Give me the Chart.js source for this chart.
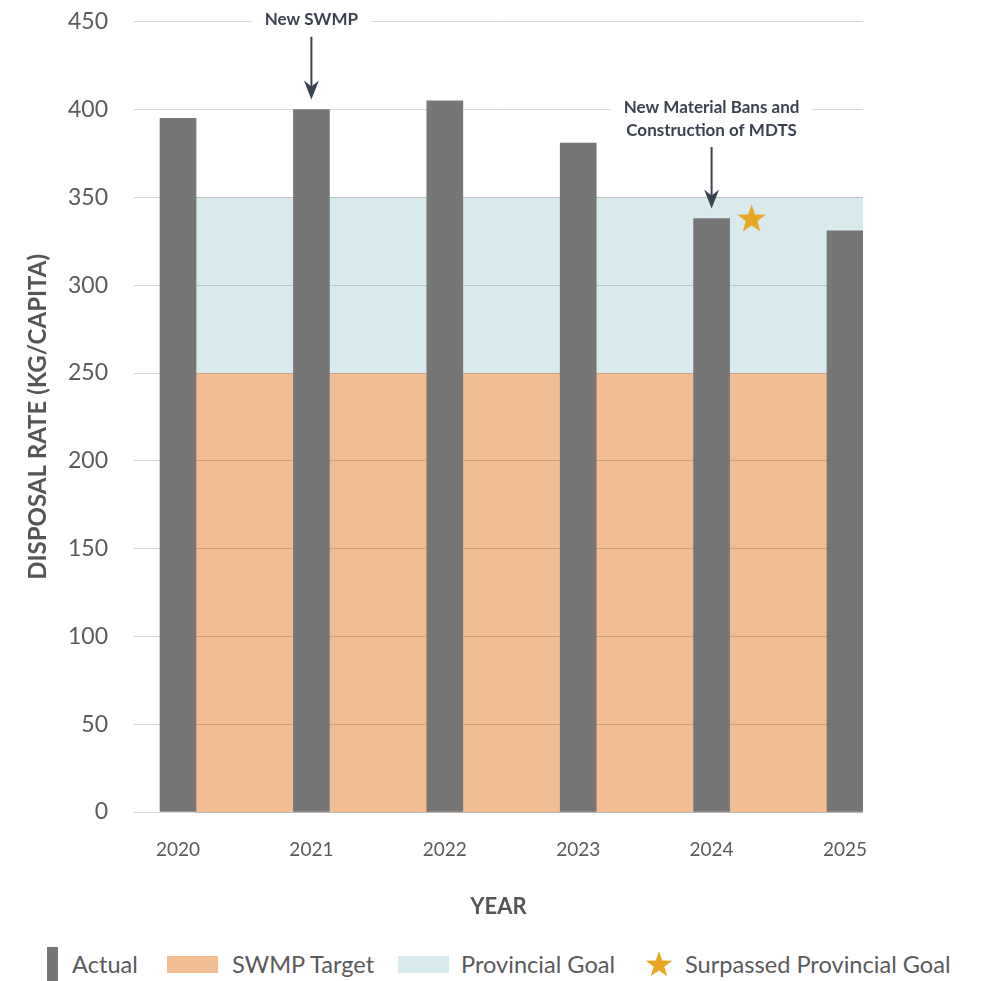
<!DOCTYPE html>
<html>
<head>
<meta charset="utf-8">
<script src="https://cdn.jsdelivr.net/npm/chart.js@4.4.1/dist/chart.umd.min.js"></script>
<style>
  html, body { margin: 0; padding: 0; background: #fff; overflow: hidden; }
  #wrap { position: relative; width: 982px; height: 981px; overflow: hidden; }
  #chartBox { position: absolute; left: 0; top: -18px; width: 982px; height: 958px; }
  .legend { position: absolute; left: 0; top: 945px; width: 982px; height: 38px;
            font-family: Lato, "Open Sans", sans-serif; font-size: 23.6px; color: #5a5a5a; }
  .legend .item { position: absolute; top: 0; height: 38px; display: flex; align-items: center; white-space: nowrap; }
  .legend .sw { display: inline-block; margin-right: 14px; }
  .legend .bar { width: 11px; height: 40px; align-self: flex-start; margin-top: 2px; background: #767676; }
  .legend .box { width: 51px; height: 17px; }
</style>
</head>
<body>
<div id="wrap">
  <div id="chartBox"><canvas id="myChart"></canvas></div>
  <div class="legend">
    <div class="item" style="left:47px"><span class="sw bar"></span>Actual</div>
    <div class="item" style="left:167px"><span class="sw box" style="background:#f2bd92"></span>SWMP Target</div>
    <div class="item" style="left:398px"><span class="sw box" style="background:#d9eaec;margin-right:12px"></span>Provincial Goal</div>
    <div class="item" style="left:645px"><canvas id="legendStar" class="sw" width="28" height="28" style="margin-right:12px"></canvas>Surpassed Provincial Goal</div>
  </div>
</div>
<script>
// chart values
const years = [2020, 2021, 2022, 2023, 2024, 2025];
const actual = [395, 400, 405, 381, 338, 331];
const swmpTarget = 250;
const provincialGoal = 350;
const surpassedYear = 2024;
const events = [
  { year: 2021, lines: ['New SWMP'] },
  { year: 2024, lines: ['New Material Bans and', 'Construction of MDTS'] }
];

const FONT = 'Lato, "Open Sans", sans-serif';
const BAR_W = 36;
const GRID = 'rgba(0,0,0,0.15)';
const NOTE_COLOR = '#3b4350';
const STAR_COLOR = '#e9a823';

function drawStar(ctx, cx, cy, R, r) {
  ctx.beginPath();
  for (let i = 0; i < 10; i++) {
    const rad = i % 2 === 0 ? R : r;
    const a = -Math.PI / 2 + i * Math.PI / 5;
    const px = cx + rad * Math.cos(a), py = cy + rad * Math.sin(a);
    if (i === 0) ctx.moveTo(px, py); else ctx.lineTo(px, py);
  }
  ctx.closePath();
  ctx.fill();
}

function align(p) { return Math.round(p - 0.5) + 0.5; }

// target bands, with grid redrawn on top of them
const bandsPlugin = {
  id: 'bands',
  beforeDatasetsDraw(chart) {
    const { ctx, scales: { x, y } } = chart;
    const x0 = x.getPixelForValue(years[0]) + BAR_W / 2;
    const x1 = x.getPixelForValue(years[years.length - 1]) + BAR_W / 2;
    const y0 = y.getPixelForValue(0);
    const yT = y.getPixelForValue(swmpTarget);
    const yG = y.getPixelForValue(provincialGoal);
    ctx.save();
    ctx.fillStyle = '#f2bd92';
    ctx.fillRect(x0, yT, x1 - x0, y0 - yT);
    ctx.fillStyle = '#d9eaec';
    ctx.fillRect(x0, yG, x1 - x0, yT - yG);
    ctx.strokeStyle = GRID;
    ctx.lineWidth = 1;
    y.ticks.forEach(t => {
      if (t.value > provincialGoal) return;
      const py = align(y.getPixelForValue(t.value));
      ctx.beginPath();
      ctx.moveTo(x0, py);
      ctx.lineTo(x1, py);
      ctx.stroke();
    });
    ctx.restore();
  }
};

// event notes with arrows, and the star
const notesPlugin = {
  id: 'notes',
  afterDatasetsDraw(chart) {
    const { ctx, scales: { x, y } } = chart;
    const levels = [450, 400];
    ctx.save();
    ctx.font = 'bold 17px ' + FONT;
    ctx.textAlign = 'center';
    ctx.textBaseline = 'middle';
    events.forEach((ev, k) => {
      const cx = x.getPixelForValue(ev.year);
      const barTop = y.getPixelForValue(actual[years.indexOf(ev.year)]);
      const firstY = y.getPixelForValue(levels[k]) - 2;
      const lastY = firstY + (ev.lines.length - 1) * 22.5;
      const w = Math.max(...ev.lines.map(s => ctx.measureText(s).width)) + 26;
      ctx.fillStyle = '#fff';
      ctx.fillRect(cx - w / 2, firstY - 17, w, lastY - firstY + 34);
      ctx.fillStyle = NOTE_COLOR;
      ev.lines.forEach((s, i) => ctx.fillText(s, cx, firstY + i * 22.5));
      const startY = lastY + 17;
      const tipY = barTop - 10;
      ctx.strokeStyle = NOTE_COLOR;
      ctx.lineWidth = 2;
      ctx.beginPath();
      ctx.moveTo(cx, startY);
      ctx.lineTo(cx, tipY - 12);
      ctx.stroke();
      ctx.beginPath();
      ctx.moveTo(cx, tipY);
      ctx.lineTo(cx - 7.5, tipY - 19);
      ctx.lineTo(cx, tipY - 13);
      ctx.lineTo(cx + 7.5, tipY - 19);
      ctx.closePath();
      ctx.fill();
    });
    const si = years.indexOf(surpassedYear);
    ctx.fillStyle = STAR_COLOR;
    drawStar(ctx, x.getPixelForValue(surpassedYear) + BAR_W + 4, y.getPixelForValue(actual[si]) + 1, 15, 6);
    ctx.restore();
  }
};

const starCtx = document.getElementById('legendStar').getContext('2d');
starCtx.fillStyle = STAR_COLOR;
drawStar(starCtx, 14, 15, 14, 5.6);

new Chart(document.getElementById('myChart'), {
  type: 'bar',
  data: {
    datasets: [{
      label: 'Actual',
      data: years.map((yr, i) => ({ x: yr, y: actual[i] })),
      backgroundColor: '#767676',
      barThickness: BAR_W
    }]
  },
  options: {
    responsive: true,
    maintainAspectRatio: false,
    animation: false,
    layout: { padding: { top: 2, right: 119, left: 0, bottom: 0 } },
    plugins: { legend: { display: false }, tooltip: { enabled: false } },
    scales: {
      x: {
        type: 'linear',
        offset: false,
        min: 2019.67,
        max: 2025.135,
        afterBuildTicks: s => { s.ticks = years.map(v => ({ value: v })); },
        grid: { display: false, drawTicks: false, offset: false },
        border: { display: false },
        ticks: { callback: v => String(v), padding: 26, autoSkip: false, maxRotation: 0,
                 font: { family: FONT, size: 19 }, color: '#5a5a5a' },
        title: { display: true, text: 'YEAR', color: '#555',
                 font: { family: FONT, size: 22, weight: 'bold' }, padding: { top: 0, bottom: 20 } },
        afterFit: s => { s.height = 128; }
      },
      y: {
        min: 0,
        max: 450,
        grid: { color: GRID, drawTicks: false },
        border: { display: false },
        ticks: { stepSize: 50, padding: 26, font: { family: FONT, size: 23 }, color: '#5a5a5a' },
        title: { display: true, text: 'DISPOSAL RATE (KG/CAPITA)', color: '#555',
                 font: { family: FONT, size: 24, weight: 'bold' }, padding: { top: 24, bottom: 0 } },
        afterFit: s => { s.width = 134; }
      }
    }
  },
  plugins: [bandsPlugin, notesPlugin]
});
</script>
</body>
</html>
